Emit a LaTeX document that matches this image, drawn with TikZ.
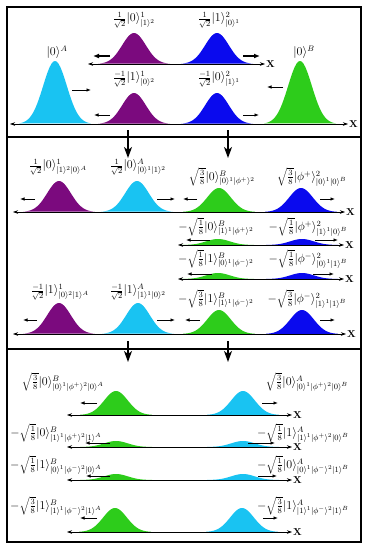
\documentclass[tikz,border=0pt]{standalone}
\usetikzlibrary{arrows.meta}
\definecolor{wcyan}{RGB}{25,195,242}
\definecolor{wpurple}{RGB}{123,10,126}
\definecolor{wblue}{RGB}{10,10,238}
\definecolor{wgreen}{RGB}{45,204,27}
\newcommand{\ket}[1]{|#1\rangle}
% colour, centre, base, height
\newcommand{\bump}[4]{\fill[#1] plot[domain=-36:36,samples=41] ({#2+\x},{#3-#4*exp(-(\x*\x)/280)}) -- cycle;}
% name, from, to, y
\newcommand{\kick}[5][kick]{\coordinate (#2t) at (#3,#5); \coordinate (#2h) at (#4,#5); \draw[#1] (#2t) -- (#2h);}
\newcommand{\xline}[4]{\coordinate (#1) at (#2,#4); \node[xlab] (#1x) at (#3,#4) {\textbf{X}}; \draw[axis] (#1) -- (#1x.west);}
\tikzset{
  frame/.style={line width=1.5pt},
  axis/.style={line width=0.6pt,{Stealth[length=5pt,width=3.5pt]}-{Stealth[length=5pt,width=3.5pt]}},
  xlab/.style={anchor=west,inner sep=1pt,font=\normalsize},
  kick/.style={line width=0.8pt,-{Latex[length=4.5pt,width=3.5pt]}},
  bigkick/.style={line width=1.3pt,-{Latex[length=6pt,width=5pt]}},
  flow/.style={line width=1.5pt,-{Stealth[length=11pt,width=8pt,inset=3pt]}},
}
\begin{document}
\begin{tikzpicture}[x=1pt,y=-1pt,every node/.style={font=\fontsize{11.5}{14}\selectfont,inner sep=1pt}]
\useasboundingbox (0,0) rectangle (367,550);
\draw[frame] (7,7) rectangle (361,137);
\draw[frame] (7,137) rectangle (361,349);
\draw[frame] (7,349) rectangle (361,542);
% top panel
\bump{wcyan}{55}{124}{63}
\bump{wgreen}{300}{124}{63}
\bump{wpurple}{134}{64}{31}
\bump{wblue}{217}{64}{31}
\bump{wpurple}{134}{124}{31}
\bump{wblue}{217}{124}{31}
\xline{a1}{88}{265}{64}
\xline{a2}{10}{348}{124}
\node (kA) at (57,52) {$\ket{0}^A$};
\node (kB) at (304,52) {$\ket{0}^B$};
\node (p1) at (134,20) {$\frac{1}{\sqrt2}\ket{0}^1_{\ket{1}^2}$};
\node (q1) at (219,20) {$\frac{1}{\sqrt2}\ket{1}^2_{\ket{0}^1}$};
\node (p2) at (134,79) {$\frac{-1}{\sqrt2}\ket{1}^1_{\ket{0}^2}$};
\node (q2) at (219,79) {$\frac{-1}{\sqrt2}\ket{0}^2_{\ket{1}^1}$};
\kick[bigkick]{m1}{110}{93}{56}
\kick[bigkick]{m2}{243}{260}{56}
\kick{m3}{72}{91}{90}
\kick{m4}{283}{267}{87}
\kick{m5}{110}{94}{115}
\kick{m6}{243}{259}{115}
% middle panel
\bump{wpurple}{59}{212}{31}
\bump{wcyan}{137}{212}{31}
\bump{wgreen}{219}{212}{24}
\bump{wblue}{301}{212}{24}
\bump{wgreen}{218}{245}{6}
\bump{wblue}{302}{245}{6}
\bump{wgreen}{218}{279}{6}
\bump{wblue}{302}{279}{6}
\bump{wpurple}{59}{334}{31}
\bump{wcyan}{138}{334}{31}
\bump{wgreen}{219}{334}{24}
\bump{wblue}{302}{334}{24}
\xline{b1}{13}{345}{212}
\xline{b2}{178}{344}{245}
\xline{b3}{178}{344}{279}
\xline{b4}{13}{346}{334}
\node (r1) at (58,167) {$\frac{1}{\sqrt2}\ket{0}^1_{\ket{1}^2\ket{0}^A}$};
\node (s1) at (138,167) {$\frac{1}{\sqrt2}\ket{0}^A_{\ket{0}^1\ket{1}^2}$};
\node (t1) at (222,177) {$\sqrt{\frac{3}{8}}\ket{0}^B_{\ket{0}^1\ket{\phi^+}^2}$};
\node (u1) at (312,177) {$\sqrt{\frac{3}{8}}\ket{\phi^+}^2_{\ket{0}^1\ket{0}^B}$};
\node (t2) at (216,227) {$-\sqrt{\frac{1}{8}}\ket{0}^B_{\ket{1}^1\ket{\phi^+}^2}$};
\node (u2) at (308,227) {$-\sqrt{\frac{1}{8}}\ket{\phi^+}^2_{\ket{1}^1\ket{0}^B}$};
\node (t3) at (216,259) {$-\sqrt{\frac{1}{8}}\ket{1}^B_{\ket{0}^1\ket{\phi^-}^2}$};
\node (u3) at (308,259) {$-\sqrt{\frac{1}{8}}\ket{\phi^-}^2_{\ket{0}^1\ket{1}^B}$};
\node (r4) at (60,292) {$\frac{-1}{\sqrt2}\ket{1}^1_{\ket{0}^2\ket{1}^A}$};
\node (s4) at (138,292) {$\frac{-1}{\sqrt2}\ket{1}^A_{\ket{1}^1\ket{0}^2}$};
\node (t4) at (216,299) {$-\sqrt{\frac{3}{8}}\ket{1}^B_{\ket{1}^1\ket{\phi^-}^2}$};
\node (u4) at (307,299) {$-\sqrt{\frac{3}{8}}\ket{\phi^-}^2_{\ket{1}^1\ket{1}^B}$};
\kick{n1}{35}{20}{199}
\kick{n2}{157}{175}{199}
\kick{n3}{197}{183}{199}
\kick{n4}{320}{335}{199}
\kick{n5}{210}{186}{240}
\kick{n6}{315}{338}{240}
\kick{n7}{212}{187}{274}
\kick{n8}{313}{334}{274}
\kick{n9}{37}{23}{320}
\kick{n10}{157}{175}{320}
\kick{n11}{200}{185}{320}
\kick{n12}{320}{335}{320}
% bottom panel
\bump{wgreen}{116}{415}{24}
\bump{wcyan}{243}{415}{24}
\bump{wgreen}{116}{447}{6}
\bump{wcyan}{243}{447}{6}
\bump{wgreen}{116}{480}{6}
\bump{wcyan}{243}{480}{6}
\bump{wgreen}{115}{532}{24}
\bump{wcyan}{242}{532}{24}
\xline{c1}{67}{292}{415}
\xline{c2}{67}{292}{447}
\xline{c3}{67}{292}{480}
\xline{c4}{67}{292}{532}
\node (v1) at (63,382) {$\sqrt{\frac{3}{8}}\ket{0}^B_{\ket{0}^1\ket{\phi^+}^2\ket{0}^A}$};
\node (w1) at (307,382) {$\sqrt{\frac{3}{8}}\ket{0}^A_{\ket{0}^1\ket{\phi^+}^2\ket{0}^B}$};
\node (v2) at (56,433) {$-\sqrt{\frac{1}{8}}\ket{0}^B_{\ket{1}^1\ket{\phi^+}^2\ket{1}^A}$};
\node (w2) at (303,433) {$-\sqrt{\frac{1}{8}}\ket{1}^A_{\ket{1}^1\ket{\phi^+}^2\ket{0}^B}$};
\node (v3) at (56,465) {$-\sqrt{\frac{1}{8}}\ket{1}^B_{\ket{0}^1\ket{\phi^-}^2\ket{0}^A}$};
\node (w3) at (303,465) {$-\sqrt{\frac{1}{8}}\ket{0}^A_{\ket{0}^1\ket{\phi^-}^2\ket{1}^B}$};
\node (v4) at (56,506) {$-\sqrt{\frac{3}{8}}\ket{1}^B_{\ket{1}^1\ket{\phi^-}^2\ket{1}^A}$};
\node (w4) at (303,506) {$-\sqrt{\frac{3}{8}}\ket{1}^A_{\ket{1}^1\ket{\phi^-}^2\ket{1}^B}$};
\kick{o1}{97}{80}{403}
\kick{o2}{262}{278}{403}
\kick{o3}{110}{85}{443}
\kick{o4}{248}{275}{443}
\kick{o5}{110}{86}{476}
\kick{o6}{258}{277}{476}
\kick{o7}{97}{80}{518}
\kick{o8}{263}{278}{518}
% between panels
\coordinate (f1) at (128,130); \coordinate (f1e) at (128,158);
\coordinate (f2) at (228,130); \coordinate (f2e) at (228,158);
\coordinate (g1) at (128,341); \coordinate (g1e) at (128,362);
\coordinate (g2) at (228,341); \coordinate (g2e) at (228,362);
\draw[flow] (f1) -- (f1e);
\draw[flow] (f2) -- (f2e);
\draw[flow] (g1) -- (g1e);
\draw[flow] (g2) -- (g2e);
\end{tikzpicture}
\end{document}
